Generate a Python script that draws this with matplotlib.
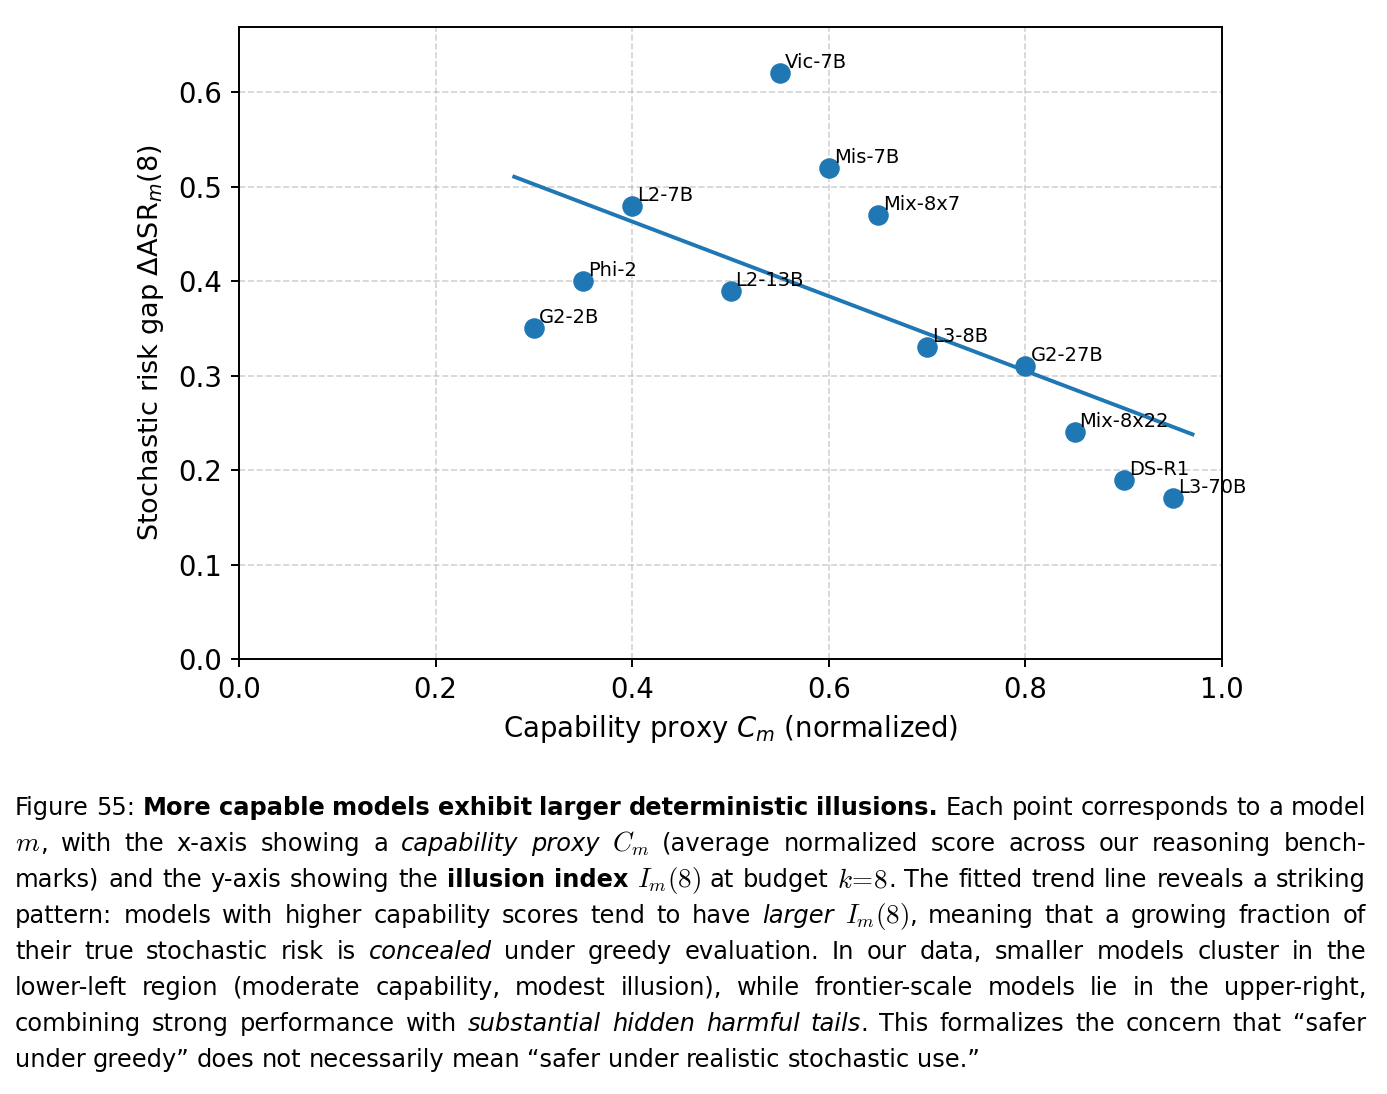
import numpy as np
import matplotlib
matplotlib.use("Agg")
import matplotlib.pyplot as plt

plt.rcParams["font.family"] = ["DejaVu Sans"]

# data
models = ["G2-2B", "Phi-2", "L2-7B", "L2-13B", "Vic-7B", "Mis-7B", "Mix-8x7",
          "L3-8B", "G2-27B", "Mix-8x22", "DS-R1", "L3-70B"]
capability = [0.30, 0.35, 0.40, 0.50, 0.55, 0.60, 0.65, 0.70, 0.80, 0.85, 0.90, 0.95]
risk_gap = [0.35, 0.40, 0.48, 0.39, 0.62, 0.52, 0.47, 0.33, 0.31, 0.24, 0.19, 0.17]

W, H = 1387, 1094
fig = plt.figure(figsize=(W / 100, H / 100), dpi=100)

# main axes placed in pixel terms
ax = fig.add_axes([239 / W, 1 - 659 / H, 983 / W, 632 / H])

x = np.array(capability)
y = np.array(risk_gap)
ax.scatter(x, y, s=190, color="#1f77b4", zorder=3)
slope, icpt = np.polyfit(x, y, 1)
xs = np.linspace(x.min() - 0.02, x.max() + 0.02, 50)
ax.plot(xs, slope * xs + icpt, color="#1f77b4", lw=2.8, zorder=2)

for name, xi, yi in zip(models, capability, risk_gap):
    ax.annotate(name, (xi, yi), xytext=(3.6, 3.6), textcoords="offset points",
                fontsize=14)

ax.set_xlim(0, 1)
ax.set_ylim(0, 0.669)
ax.set_xticks([0, 0.2, 0.4, 0.6, 0.8, 1.0])
ax.grid(True, linestyle="--", color="#b0b0b0", alpha=0.55, lw=1.2)
ax.set_axisbelow(True)
ax.tick_params(labelsize=19.8, length=6, width=1.4, pad=6)
for sp in ax.spines.values():
    sp.set_linewidth(1.4)
ax.set_xlabel(r"Capability proxy $C_m$ (normalized)", fontsize=19.8, labelpad=7)
ax.set_ylabel(r"Stochastic risk gap $\Delta\mathrm{ASR}_m(8)$", fontsize=19.5, labelpad=9)

# caption, drawn word by word so the lines can be justified
CAP_FONT = "DejaVu Sans"
n, b, i, m = "n", "b", "i", "m"
caption = [
    ([("Figure 55: ", n), ("More capable models exhibit larger deterministic illusions.", b),
      ("  Each point corresponds to a model", n)], True),
    ([("$m$", m), (", with the x-axis showing a ", n), ("capability proxy", i), (" ", n),
      ("$C_m$", m), (" (average normalized score across our reasoning bench-", n)], True),
    ([("marks) and the y-axis showing the ", n), ("illusion index", b), (" ", n),
      ("$I_m(8)$", m), (" at budget ", n), (r"$k\!=\!8$", m),
      (". The fitted trend line reveals a striking", n)], True),
    ([("pattern: models with higher capability scores tend to have ", n), ("larger", i),
      (" ", n), ("$I_m(8)$", m), (", meaning that a growing fraction of", n)], True),
    ([("their true stochastic risk is ", n), ("concealed", i),
      (" under greedy evaluation.  In our data, smaller models cluster in the", n)], True),
    ([("lower-left region (moderate capability, modest illusion), while frontier-scale "
       "models lie in the upper-right,", n)], True),
    ([("combining strong performance with ", n), ("substantial hidden harmful tails", i),
      (". This formalizes the concern that \u201csafer", n)], True),
    ([("under greedy\u201d does not necessarily mean \u201csafer under realistic stochastic use.\u201d", n)],
     False),
]

renderer = fig.canvas.get_renderer()
LEFT, RIGHT = 15, 1366
BASE0, STEP = 815, 36


def make_text(word, style, xpx, ypx, size):
    kw = dict(fontsize=size, family=CAP_FONT, va="baseline", ha="left",
              transform=None)
    if style == "b":
        kw["weight"] = "bold"
    elif style == "i":
        kw["style"] = "italic"
    elif style == "m":
        kw["math_fontfamily"] = "cm"
        kw["fontsize"] = size * 1.12
    return fig.text(xpx, H - ypx, word, **kw)


def tokenize(segs):
    tokens = []
    gap = False
    for text, style in segs:
        parts = text.split(" ")
        for k, p in enumerate(parts):
            if k > 0:
                gap = True
            if p == "":
                continue
            tokens.append([p, style, gap])
            gap = False
    return tokens


def space_for(size):
    return size * 100 / 72 * 0.30


# pick one caption size so every justified line fits with at least normal spacing
BASE_SIZE = 15.0
scales = []
for segs, justify in caption:
    if not justify:
        continue
    tokens = tokenize(segs)
    objs = [make_text(t[0], t[1], 0, -200, BASE_SIZE) for t in tokens]
    wsum = sum(o.get_window_extent(renderer).width for o in objs)
    for o in objs:
        o.remove()
    ngaps = sum(1 for t in tokens[1:] if t[2])
    scales.append((RIGHT - LEFT) / (wsum + ngaps * space_for(BASE_SIZE)))
CAP_SIZE = BASE_SIZE * min(scales)
space_px = space_for(CAP_SIZE)

for row, (segs, justify) in enumerate(caption):
    ypx = BASE0 + row * STEP
    tokens = tokenize(segs)
    objs = [make_text(t[0], t[1], 0, ypx, CAP_SIZE) for t in tokens]
    widths = [o.get_window_extent(renderer).width for o in objs]
    ngaps = sum(1 for t in tokens[1:] if t[2])
    natural = sum(widths) + ngaps * space_px
    extra = (RIGHT - LEFT - natural) / ngaps if (justify and ngaps) else 0
    xpos = LEFT
    for k, (o, w) in enumerate(zip(objs, widths)):
        if k > 0 and tokens[k][2]:
            xpos += space_px + extra
        o.set_x(xpos)
        xpos += w

fig.savefig("out.png", dpi=100)
